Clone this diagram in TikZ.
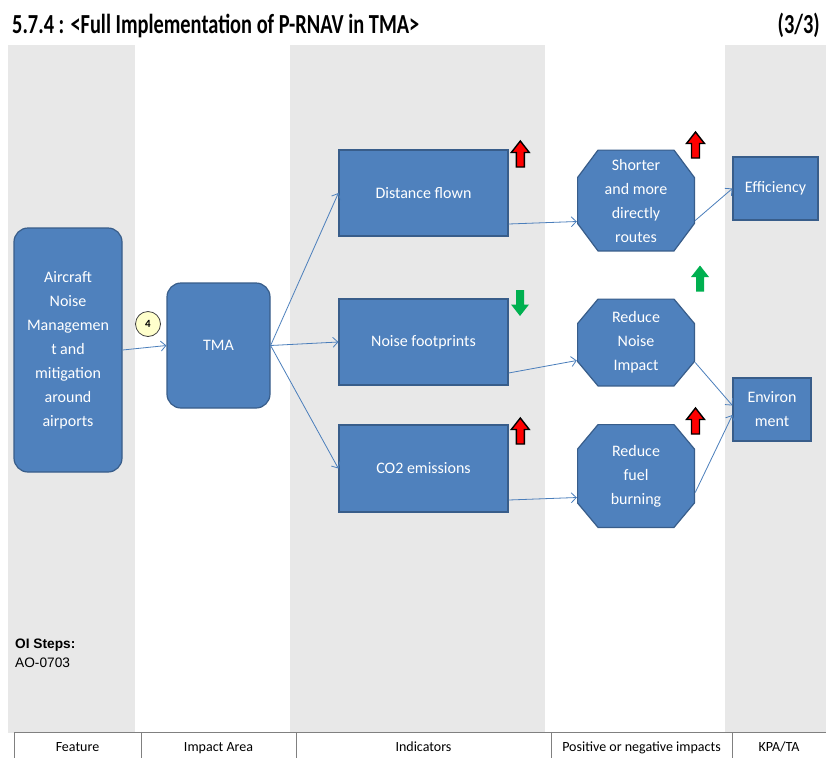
\documentclass[tikz,border=0pt]{standalone}
\usepackage{graphicx}
\usepackage{fontspec}
\setmainfont{Carlito}
\newfontfamily\arialfont{Liberation Sans}
\usetikzlibrary{arrows.meta}
\definecolor{boxblue}{HTML}{4F81BD}
\definecolor{boxedge}{HTML}{385D8A}
\definecolor{linkblue}{HTML}{4A7EBB}
\definecolor{lanegray}{HTML}{E8E8E8}
\definecolor{upgreen}{HTML}{00B050}
\definecolor{circfill}{HTML}{FFFFCC}
\definecolor{tblline}{HTML}{808080}

\begin{document}
\begin{tikzpicture}[x=1pt,y=-1pt]
	\tikzset{
		box/.style={draw=boxedge, line width=1.2pt, fill=boxblue, text=white, align=center, font=\fontsize{16}{24}\selectfont},
		rbox/.style={box, rounded corners=14pt},
		oct/.style={text=white, align=center, font=\fontsize{16}{24}\selectfont, minimum width=118pt, path picture={
			\draw[draw=boxedge, line width=1.2pt, fill=boxblue]
			([shift={(21pt,-0.6pt)}]path picture bounding box.north west) --
			([shift={(-21pt,-0.6pt)}]path picture bounding box.north east) --
			([shift={(-0.6pt,-#1pt)}]path picture bounding box.north east) --
			([shift={(-0.6pt,#1pt)}]path picture bounding box.south east) --
			([shift={(-21pt,0.6pt)}]path picture bounding box.south east) --
			([shift={(21pt,0.6pt)}]path picture bounding box.south west) --
			([shift={(0.6pt,#1pt)}]path picture bounding box.south west) --
			([shift={(0.6pt,-#1pt)}]path picture bounding box.north west) -- cycle;}},
		lnk/.style={draw=linkblue, line width=0.8pt, -{Straight Barb[length=5pt,width=10pt]}},
		lane/.style={fill=lanegray},
		hd/.style={anchor=base, font=\fontsize{14}{16}\selectfont},
		uarr/.style={insert path={++(-4,0) -- ++(0,-14.5) -- ++(-5,0) -- ++(9,-11.5) -- ++(9,11.5) -- ++(-5,0) -- ++(0,14.5) -- cycle}},
		darr/.style={insert path={++(-4,0) -- ++(0,14.5) -- ++(-5,0) -- ++(9,11.5) -- ++(9,-11.5) -- ++(-5,0) -- ++(0,-14.5) -- cycle}},
		redup/.style={fill=red, draw=black, line width=1.4pt},
		grn/.style={fill=upgreen},
		ttl/.style={font=\bfseries\fontsize{20.4}{22}\selectfont},
	}
	\useasboundingbox (0,0) rectangle (826,758);
	\fill[white] (0,0) rectangle (826,758);
	\fill[lane] (8,45) rectangle (135,733);
	\fill[lane] (290,45) rectangle (545,733);
	\fill[lane] (725,45) rectangle (826,733);
	\node[ttl, anchor=base west, inner sep=0pt] (title) at (12,33) {\scalebox{1}[1.35]{5.7.4 : <Full Implementation of P-RNAV in TMA>}};
	\node[ttl, anchor=base east, inner sep=0pt] (part) at (820,33) {\scalebox{1}[1.35]{(3/3)}};
	\node[rbox, minimum width=108pt, minimum height=244pt] (feat) at (68,350) {Aircraft\\Noise\\Managemen\\t and\\mitigation\\around\\airports};
	\node[rbox, minimum width=103pt, minimum height=125pt] (tma) at (218.5,345.5) {TMA};
	\node[circle, draw=black!75, line width=0.8pt, fill=circfill, minimum size=25pt, inner sep=0pt, font=\bfseries\fontsize{11}{13}\selectfont] (num) at (148,324) {4};
	\node[box, minimum width=169pt, minimum height=86pt] (dist) at (423.5,193) {Distance flown};
	\node[box, minimum width=169pt, minimum height=86pt] (noise) at (423.5,342) {Noise footprints};
	\node[box, minimum width=169pt, minimum height=87pt] (co2) at (423.5,468.5) {CO2 emissions};
	\node[oct=28, minimum height=102pt] (routes) at (636,200.5) {Shorter\\and more\\directly\\routes};
	\node[oct=25, minimum height=88pt] (rnoise) at (636,342.5) {Reduce\\Noise\\Impact};
	\node[oct=25, minimum height=104pt] (fuel) at (636,476) {Reduce\\fuel\\burning};
	\node[box, minimum width=85pt, minimum height=63pt] (eff) at (775.5,188.5) {Efficiency};
	\node[box, minimum width=78pt, minimum height=63pt] (env) at (772,409.5) {Environ\\ment};
	\draw[lnk] (feat.east) -- (tma.west);
	\draw[lnk] (tma.east) -- (dist.west);
	\draw[lnk] (tma.east) -- (noise.west);
	\draw[lnk] (tma.east) -- (co2.west);
	\draw[lnk] ([yshift=-31pt]dist.east) -- ([yshift=-21pt]routes.west);
	\draw[lnk] ([yshift=-31pt]noise.east) -- ([yshift=-18pt]rnoise.west);
	\draw[lnk] ([yshift=-31.5pt]co2.east) -- ([yshift=-21.5pt]fuel.west);
	\draw[lnk] ([yshift=-20pt]routes.east) -- (eff.west);
	\draw[lnk] ([yshift=-20pt]rnoise.east) -- ([yshift=4pt]env.west);
	\draw[lnk] ([yshift=-16.5pt]fuel.east) -- ([yshift=-5.5pt]env.west);
	\draw[redup] (520.3,167) [uarr];
	\draw[redup] (695.5,158) [uarr];
	\draw[redup] (520.3,444) [uarr];
	\draw[redup] (695.5,434) [uarr];
	\fill[grn] (700,291.5) [uarr];
	\fill[grn] (520,290) [darr];
	\node[anchor=base west, inner sep=0pt, font=\arialfont\bfseries\fontsize{13.7}{15}\selectfont] (oi) at (15,648) {OI Steps:};
	\node[anchor=base west, inner sep=0pt, font=\arialfont\fontsize{13.7}{15}\selectfont] (oinum) at (15,667) {AO-0703};
	\fill[white] (14,733) rectangle (826,758);
	\draw[tblline, line width=0.8pt] (14,733) -- (14,758) (141,733) -- (141,758) (296,733) -- (296,758) (551,733) -- (551,758) (732,733) -- (732,758);
	\draw[tblline, line width=1.8pt] (14,732.5) -- (826,732.5);
	\node[hd] (h1) at (77.5,751) {Feature};
	\node[hd] (h2) at (218.5,751) {Impact Area};
	\node[hd] (h3) at (423.5,751) {Indicators};
	\node[hd] (h4) at (641.5,751) {Positive or negative impacts};
	\node[hd] (h5) at (779,751) {KPA/TA};
\end{tikzpicture}
\end{document}
